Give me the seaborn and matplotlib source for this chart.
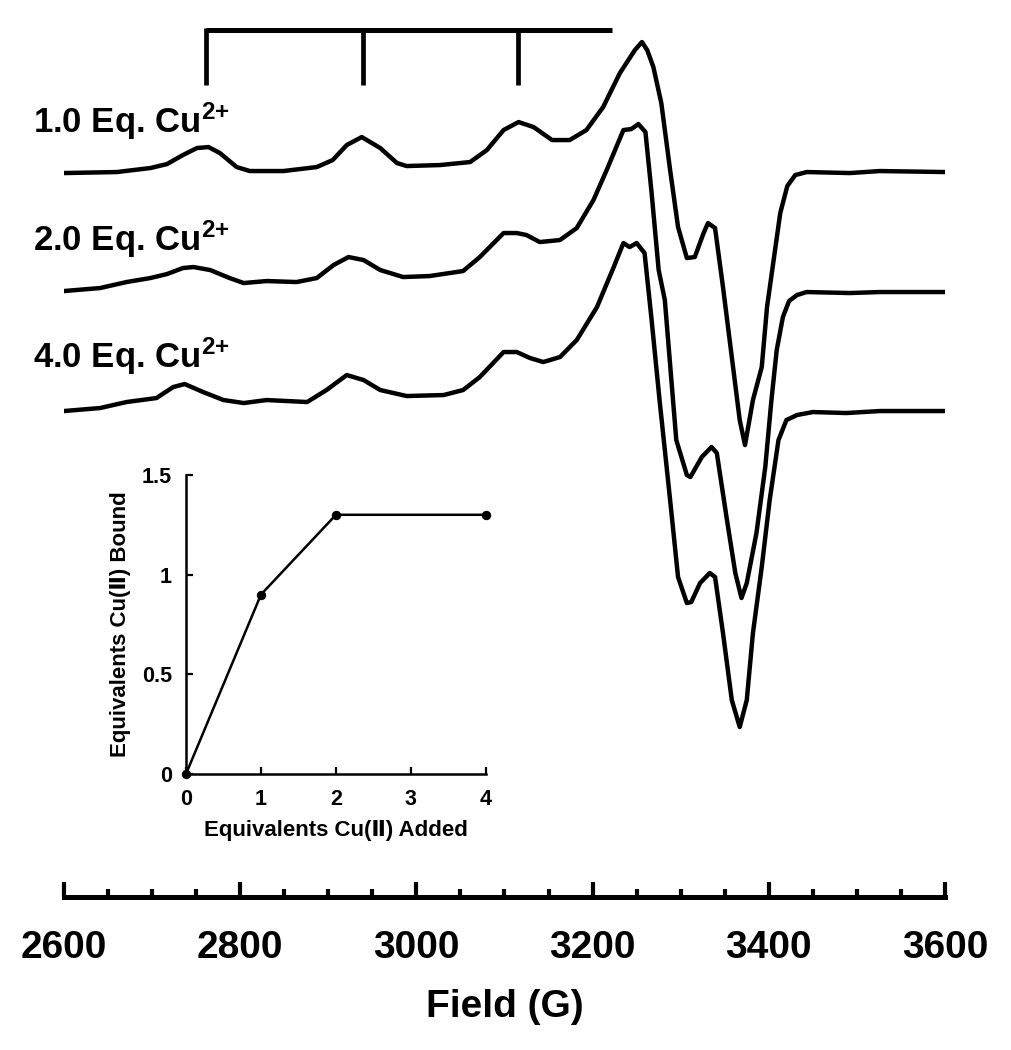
import pandas as pd
import matplotlib.pyplot as plt
from matplotlib.ticker import MultipleLocator
import seaborn as sns

# EPR spectra: field (G) and signal (a.u., baseline = 0)
field_1eq = [2600, 2660, 2698, 2717, 2735, 2751, 2764, 2777, 2796, 2811,
             2849, 2887, 2905, 2921, 2938, 2959, 2978, 2989, 3027, 3061,
             3080, 3099, 3116, 3133, 3154, 3174, 3193, 3212, 3231, 3248,
             3256, 3262, 3269, 3278, 3288, 3297, 3307, 3316, 3326, 3331,
             3339, 3348, 3357, 3367, 3373, 3382, 3392, 3398, 3413, 3421,
             3430, 3443, 3492, 3526, 3600]
signal_1eq = [-1, 0, 4, 8, 17, 24, 25, 19, 5, 1,
              1, 5, 12, 27, 35, 24, 9, 6, 7, 10,
              22, 42, 50, 45, 32, 32, 42, 65, 99, 122,
              130, 122, 105, 69, 2, -55, -86, -85, -61, -51,
              -56, -115, -178, -248, -273, -228, -195, -135, -41, -14,
              -3, 0, -1, 1, 0]

field_2eq = [2600, 2641, 2671, 2698, 2717, 2735, 2747, 2766, 2788, 2804,
             2830, 2864, 2887, 2906, 2923, 2940, 2959, 2985, 3015, 3053,
             3072, 3099, 3114, 3125, 3140, 3163, 3182, 3201, 3216, 3235,
             3244, 3252, 3260, 3267, 3275, 3282, 3295, 3307, 3311, 3324,
             3335, 3341, 3352, 3362, 3369, 3375, 3386, 3396, 3403, 3409,
             3416, 3423, 3432, 3443, 3492, 3526, 3600]
signal_2eq = [0, 3, 9, 13, 17, 23, 24, 21, 13, 8,
              10, 9, 13, 26, 34, 31, 21, 14, 15, 20,
              34, 58, 58, 56, 49, 51, 63, 91, 121, 161,
              162, 167, 159, 98, 21, -9, -149, -184, -186, -166,
              -156, -162, -226, -282, -307, -292, -242, -176, -109, -59,
              -26, -10, -4, -1, -2, -1, -1]

field_4eq = [2600, 2641, 2671, 2705, 2724, 2737, 2758, 2781, 2804, 2830,
             2876, 2898, 2921, 2940, 2959, 2989, 3031, 3053, 3072, 3099,
             3114, 3129, 3144, 3163, 3182, 3205, 3224, 3235, 3242, 3250,
             3259, 3267, 3276, 3288, 3297, 3307, 3312, 3322, 3333, 3339,
             3348, 3358, 3367, 3375, 3382, 3392, 3401, 3411, 3420, 3432,
             3450, 3488, 3526, 3600]
signal_4eq = [-1, 2, 8, 12, 23, 26, 18, 10, 7, 10,
              8, 20, 35, 30, 20, 14, 15, 20, 33, 58,
              58, 52, 48, 53, 70, 103, 143, 167, 163, 167,
              157, 90, 10, -90, -167, -193, -192, -173, -163, -167,
              -223, -290, -317, -290, -223, -157, -90, -30, -10, -5,
              -2, -3, -1, -1]

trace_labels = ['1.0 Eq. Cu$^{2{+}}$', '2.0 Eq. Cu$^{2{+}}$', '4.0 Eq. Cu$^{2{+}}$']
trace_offsets = [725, 606, 487]
label_heights = [764, 646, 529]

# Cu hyperfine splitting marks (G)
hyperfine_lines = [2761, 2939, 3115]
hyperfine_bar_end = 3222

# Inset titration
eq_added = [0, 1, 2, 4]
eq_bound = [0, 0.9, 1.3, 1.3]

sns.set_style('white')
plt.rcParams['font.family'] = ['Liberation Sans', 'DejaVu Sans']
plt.rcParams['font.weight'] = 'bold'
plt.rcParams['mathtext.fontset'] = 'custom'
plt.rcParams['mathtext.rm'] = 'Liberation Sans:bold'
plt.rcParams['mathtext.it'] = 'Liberation Sans:bold'
plt.rcParams['mathtext.bf'] = 'Liberation Sans:bold'
for key in ['text.color', 'axes.labelcolor', 'xtick.color', 'ytick.color', 'axes.edgecolor']:
    plt.rcParams[key] = 'black'

fig = plt.figure(figsize=(10.12, 10.5), dpi=100)
ax = fig.add_axes([0.0632, 0.1457, 0.8706, 0.8352])

traces = [(field_1eq, signal_1eq), (field_2eq, signal_2eq), (field_4eq, signal_4eq)]
for (fld, sig), off, lab, ly in zip(traces, trace_offsets, trace_labels, label_heights):
    df = pd.DataFrame({'Field': fld, 'Signal': [s + off for s in sig]})
    sns.lineplot(data=df, x='Field', y='Signal', sort=False, estimator=None,
                 color='black', linewidth=3.2, solid_joinstyle='round', ax=ax)
    ax.text(2565, ly, lab, fontsize=25, fontweight='bold', va='baseline', ha='left')

# stick diagram for the parallel hyperfine lines
ax.plot([hyperfine_lines[0], hyperfine_bar_end], [867, 867], color='black', lw=3.6,
        solid_capstyle='butt')
for h in hyperfine_lines:
    ax.plot([h, h], [812, 869], color='black', lw=3.4, solid_capstyle='butt')

ax.set_xlim(2600, 3600)
ax.set_ylim(0, 877)
ax.set_yticks([])
ax.set_ylabel('')
for side in ['left', 'top', 'right']:
    ax.spines[side].set_visible(False)
ax.spines['bottom'].set_linewidth(3.6)
ax.xaxis.set_major_locator(MultipleLocator(200))
ax.xaxis.set_minor_locator(MultipleLocator(50))
ax.tick_params(axis='x', which='both', bottom=True, color='black')
ax.tick_params(axis='x', which='major', direction='in', length=11, width=3,
               pad=24, labelsize=28)
ax.tick_params(axis='x', which='minor', direction='in', length=5.5, width=3)
ax.set_xlabel('Field (G)', fontsize=28, fontweight='bold', labelpad=16)
for t in ax.get_xticklabels():
    t.set_fontweight('bold')

# Inset: Cu(II) bound vs added
ins = fig.add_axes([0.1838, 0.2629, 0.2964, 0.2848])
ins.patch.set_alpha(0)
sns.lineplot(x=eq_added, y=eq_bound, color='black', linewidth=1.8, marker='o',
             markersize=6, markeredgecolor='black', ax=ins, clip_on=False)
ins.set_xlim(0, 4)
ins.set_ylim(0, 1.5)
ins.set_xticks([0, 1, 2, 3, 4])
ins.set_yticks([0, 0.5, 1, 1.5])
ins.set_yticklabels(['0', '0.5', '1', '1.5'])
for side in ['top', 'right']:
    ins.spines[side].set_visible(False)
for side in ['left', 'bottom']:
    ins.spines[side].set_linewidth(1.8)
    ins.spines[side].set_color('black')
ins.tick_params(axis='both', which='major', bottom=True, left=True, direction='in',
                length=5, width=1.6, labelsize=15.5, color='black')
ins.tick_params(axis='x', pad=11)
ins.tick_params(axis='y', pad=10)
ins.set_xlabel('Equivalents Cu(Ⅱ) Added', fontsize=16, fontweight='bold', labelpad=7)
ins.set_ylabel('Equivalents Cu(Ⅱ) Bound', fontsize=16, fontweight='bold', labelpad=8)
for t in ins.get_xticklabels() + ins.get_yticklabels():
    t.set_fontweight('bold')

plt.savefig('out.png', dpi=100)
